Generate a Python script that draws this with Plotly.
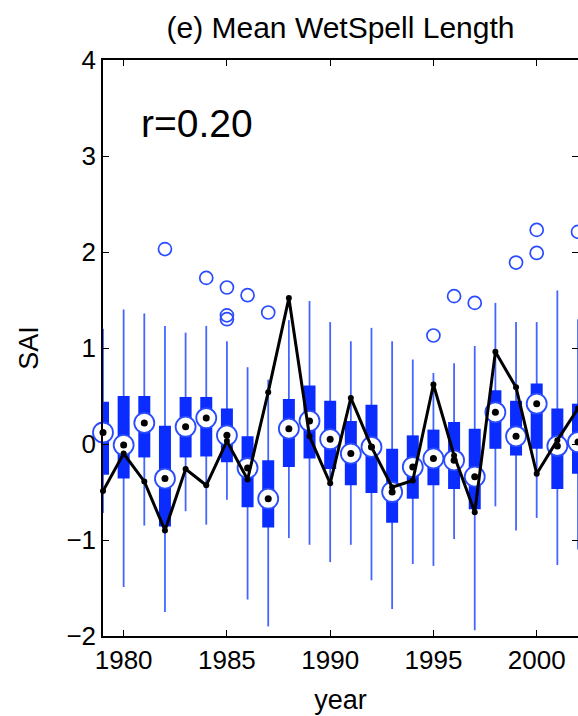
import plotly.graph_objects as go

# SAI spread per year
years = list(range(1979, 2003))
whisker_lo = [-0.72, -1.49, -0.85, -1.75, -0.70, -0.84, -0.58, -1.62, -1.90, -0.98,
              -1.05, -1.23, -1.05, -1.42, -1.72, -1.25, -1.27, -0.99, -1.94, -0.65,
              -0.90, -0.77, -1.26, -1.10]
q1 = [-0.32, -0.36, -0.14, -0.86, -0.14, -0.13, -0.19, -0.66, -0.87, -0.24,
      -0.15, -0.26, -0.43, -0.51, -0.82, -0.57, -0.43, -0.47, -0.68, -0.05,
      -0.12, -0.05, -0.47, -0.31]
median = [0.12, -0.01, 0.22, -0.36, 0.18, 0.27, 0.09, -0.25, -0.57, 0.16,
          0.24, 0.05, -0.10, -0.03, -0.50, -0.24, -0.15, -0.17, -0.34, 0.33,
          0.08, 0.42, -0.02, 0.02]
q3 = [0.44, 0.50, 0.50, 0.19, 0.49, 0.49, 0.37, 0.08, -0.17, 0.47,
      0.61, 0.45, 0.24, 0.41, -0.05, 0.09, 0.15, 0.23, 0.16, 0.56,
      0.45, 0.63, 0.37, 0.42]
whisker_hi = [1.20, 1.40, 1.36, 1.23, 1.16, 1.23, 1.07, 0.80, 0.67, 1.29,
              1.49, 1.27, 1.07, 1.21, 1.07, 0.88, 0.74, 0.84, 1.02, 1.47,
              1.27, 1.27, 1.60, 1.30]
outlier_years = [1982, 1984, 1985, 1985, 1985, 1986, 1987, 1995, 1996, 1997,
                 1999, 2000, 2000, 2002]
outlier_vals = [2.03, 1.73, 1.63, 1.34, 1.30, 1.55, 1.37, 1.13, 1.54, 1.47,
                1.89, 2.23, 1.99, 2.21]
# observed index (black line)
observed = [-0.49, -0.10, -0.39, -0.90, -0.26, -0.43, 0.03, -0.37, 0.54, 1.52,
            0.08, -0.41, 0.48, -0.03, -0.45, -0.38, 0.62, -0.12, -0.71, 0.96,
            0.59, -0.31, 0.04, 0.37]

BLUE = "#0b2cff"
WHISK = "#4466ff"

wx, wy, bx, by = [], [], [], []
for yr, lo, a, b, hi in zip(years, whisker_lo, q1, q3, whisker_hi):
    wx += [yr, yr, None]
    wy += [lo, hi, None]
    bx += [yr, yr, None]
    by += [a, b, None]

fig = go.Figure()
fig.add_trace(go.Scatter(x=wx, y=wy, mode="lines",
                         line=dict(color=WHISK, width=1.8), hoverinfo="skip"))
fig.add_trace(go.Scatter(x=bx, y=by, mode="lines",
                         line=dict(color=BLUE, width=12), hoverinfo="skip"))
fig.add_trace(go.Scatter(x=outlier_years, y=outlier_vals, mode="markers",
                         marker=dict(symbol="circle-open", size=13, color="#2a4cff",
                                     line=dict(width=1.7)),
                         cliponaxis=False, hoverinfo="skip"))
fig.add_trace(go.Scatter(x=years, y=median, mode="markers",
                         marker=dict(symbol="circle", size=20, color="white",
                                     line=dict(color="#2a4cff", width=1.8)),
                         cliponaxis=False, hoverinfo="skip"))
fig.add_trace(go.Scatter(x=years, y=median, mode="markers",
                         marker=dict(symbol="circle", size=7, color="black"),
                         cliponaxis=False, hoverinfo="skip"))
fig.add_trace(go.Scatter(x=years, y=observed, mode="lines+markers",
                         line=dict(color="black", width=3),
                         marker=dict(size=6, color="black"),
                         cliponaxis=False, hoverinfo="skip"))

fig.add_annotation(text="r=0.20", xref="paper", yref="paper", x=0.075, y=0.889,
                   xanchor="left", yanchor="middle", showarrow=False,
                   font=dict(size=39, color="black"))

axis_font = dict(family="Liberation Sans, Arial, Helvetica", size=26, color="black")
fig.update_layout(
    width=578, height=716,
    margin=dict(l=103, r=0, t=60, b=80, autoexpand=False),
    paper_bgcolor="white", plot_bgcolor="white",
    showlegend=False,
    font=dict(family="Liberation Sans, Arial, Helvetica", color="black"),
    title=dict(text="(e) Mean WetSpell Length", x=0.5, xref="paper", xanchor="center",
               y=1 - 27 / 716, yref="container", yanchor="middle",
               font=dict(size=30, color="black"), automargin=False),
    xaxis=dict(range=[1979, 2002], tickvals=[1980, 1985, 1990, 1995, 2000],
               ticks="inside", ticklen=6, tickcolor="black", tickwidth=1.2,
               showline=True, linecolor="black", linewidth=1.5, mirror="ticks",
               showgrid=False, zeroline=False, tickfont=axis_font, automargin=False,
               title=dict(text="year", font=dict(size=27), standoff=16)),
    yaxis=dict(range=[-2, 4], tickvals=[-2, -1, 0, 1, 2, 3, 4],
               ticks="inside", ticklen=6, tickcolor="black", tickwidth=1.2,
               showline=True, linecolor="black", linewidth=1.5, mirror="ticks",
               showgrid=False, zeroline=False, tickfont=axis_font, automargin=False,
               title=dict(text="SAI", font=dict(size=27), standoff=20)),
)

# drop the page's default body margin so the figure sits at the window corner
fig.write_html("out.html", config=dict(displayModeBar=False),
               post_script="document.body.style.margin='0';"
                           "document.body.style.overflow='hidden';")
